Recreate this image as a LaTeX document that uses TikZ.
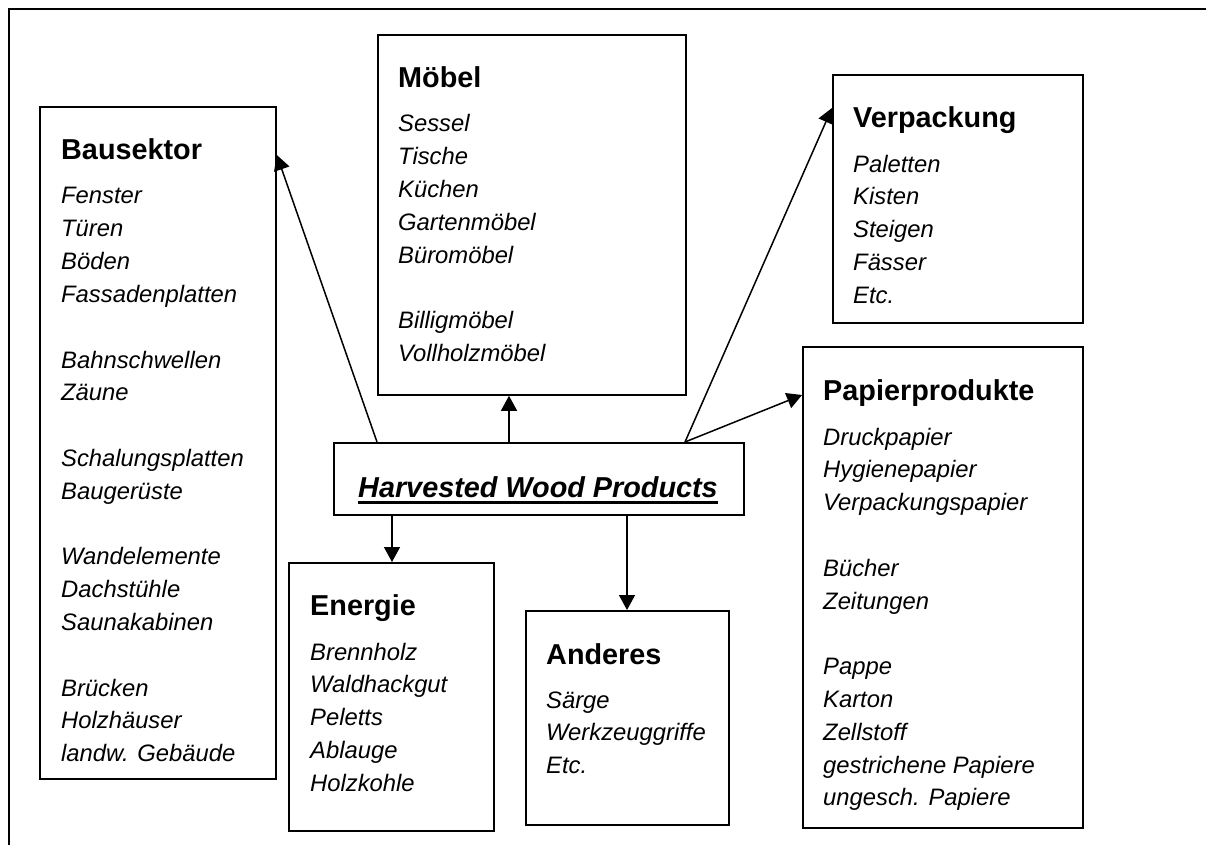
\documentclass[tikz,border=0pt]{standalone}
\usepackage{fontspec}
\setmainfont{Liberation Sans}
\usetikzlibrary{arrows.meta}
\newcommand\itm[1]{\hbox{#1}}
\newcommand\lst[1]{\vtop{\baselineskip=32.8pt\lineskiplimit=-100pt\lineskip=0pt #1}}
\begin{document}
\begin{tikzpicture}[x=1pt,y=-1pt,
  box/.style={draw, line width=1.8pt, inner sep=0pt, anchor=north west},
  ttl/.style={font=\fontsize{28.8}{34}\selectfont\bfseries, inner sep=0pt, anchor=base west},
  items/.style={font=\fontsize{23.8}{32.8}\selectfont\itshape, inner sep=0pt, anchor=base west},
  arr/.style={line width=1.5pt, -{Triangle[length=15pt,width=16pt]}}]
\useasboundingbox (0,0) rectangle (1206,845);
% outer frame (top and left only visible)
\draw[line width=2pt] (9,845) -- (9,9) -- (1206,9);

% boxes
\node[box, minimum width=236pt, minimum height=672pt] (bau) at (39,106) {};
\node[box, minimum width=308pt, minimum height=360pt] (moe) at (377,34) {};
\node[box, minimum width=250pt, minimum height=248pt] (verp) at (832,74) {};
\node[box, minimum width=280pt, minimum height=481pt] (pap) at (802,346) {};
\node[box, minimum width=410pt, minimum height=72pt] (hwp) at (333,442) {};
\node[box, minimum width=205pt, minimum height=268pt] (ene) at (288,562) {};
\node[box, minimum width=203pt, minimum height=214pt] (and) at (525,610) {};

% texts
\node[ttl] (bau-t) at (61,160) {Bausektor};
\node[items] (bau-l) at (61,204) {\lst{\itm{Fenster}\itm{Türen}\itm{Böden}\itm{Fassadenplatten}\itm{}\itm{Bahnschwellen}\itm{Zäune}\itm{}\itm{Schalungsplatten}\itm{Baugerüste}\itm{}\itm{Wandelemente}\itm{Dachstühle}\itm{Saunakabinen}\itm{}\itm{Brücken}\itm{Holzhäuser}\itm{landw. Gebäude}}};

\node[ttl] (moe-t) at (398,88) {Möbel};
\node[items] (moe-l) at (398,132) {\lst{\itm{Sessel}\itm{Tische}\itm{Küchen}\itm{Gartenmöbel}\itm{Büromöbel}\itm{}\itm{Billigmöbel}\itm{Vollholzmöbel}}};

\node[ttl] (verp-t) at (853,128) {Verpackung};
\node[items] (verp-l) at (853,172) {\lst{\itm{Paletten}\itm{Kisten}\itm{Steigen}\itm{Fässer}\itm{Etc.}}};

\node[ttl] (pap-t) at (823,400) {Papierprodukte};
\node[items] (pap-l) at (823,445) {\lst{\itm{Druckpapier}\itm{Hygienepapier}\itm{Verpackungspapier}\itm{}\itm{Bücher}\itm{Zeitungen}\itm{}\itm{Pappe}\itm{Karton}\itm{Zellstoff}\itm{gestrichene Papiere}\itm{ungesch. Papiere}}};

\node[ttl] (ene-t) at (310,615) {Energie};
\node[items] (ene-l) at (310,660) {\lst{\itm{Brennholz}\itm{Waldhackgut}\itm{Peletts}\itm{Ablauge}\itm{Holzkohle}}};

\node[ttl] (and-t) at (546,664) {Anderes};
\node[items] (and-l) at (546,708) {\lst{\itm{Särge}\itm{Werkzeuggriffe}\itm{Etc.}}};

\node[ttl, anchor=base, font=\fontsize{28.8}{34}\selectfont\bfseries\itshape] (hwp-t) at (538,497) {Harvested Wood Products};
\draw[line width=2.2pt] ([yshift=-5.5pt]hwp-t.base west) -- ([yshift=-5.5pt]hwp-t.base east);

% connectors
\draw[arr] ([xshift=44pt]hwp.north west) -- ([yshift=-49pt]bau.north east);
\draw[arr] ([xshift=176pt]hwp.north west) -- ([xshift=176pt]hwp.north west |- moe.south);
\draw[arr] ([xshift=352pt]hwp.north west) -- ([yshift=-34pt]verp.north west);
\draw[arr] ([xshift=352pt]hwp.north west) -- ([yshift=-49pt]pap.north west);
\draw[arr] ([xshift=59pt]hwp.south west) -- ([xshift=59pt]hwp.south west |- ene.north);
\draw[arr] ([xshift=294pt]hwp.south west) -- ([xshift=294pt]hwp.south west |- and.north);
\end{tikzpicture}
\end{document}
